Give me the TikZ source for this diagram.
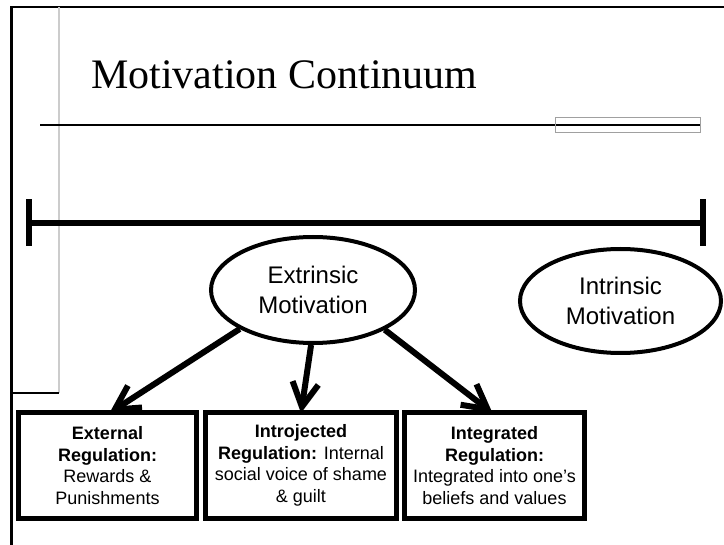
\documentclass[tikz,border=0pt]{standalone}
\usepackage{fontspec}
\setmainfont{Liberation Serif}
\setsansfont{Liberation Sans}
\usetikzlibrary{arrows.meta,shapes.geometric}

\definecolor{guidegray}{HTML}{CCCCCC}
\definecolor{boxgray}{HTML}{A0A0A0}

\tikzset{
  frameline/.style={line width=2.2pt, black},
  motive/.style={ellipse, draw, line width=4pt, inner sep=0pt,
    align=center, font=\sffamily\fontsize{24pt}{30pt}\selectfont},
  regbox/.style={rectangle, draw, line width=5pt, inner sep=0pt,
    minimum height=106pt, align=center,
    font=\sffamily\fontsize{18pt}{21.5pt}\selectfont},
  flow/.style={line width=6pt,
    -{Straight Barb[length=24pt,width=26pt,line width=6pt]}},
  barline/.style={line width=6pt},
}

\begin{document}
\begin{tikzpicture}[x=1pt, y=-1pt]
  \useasboundingbox (0,0) rectangle (724,545);

  % slide frame and guides
  \draw[frameline] (11.5,545) -- (11.5,7) -- (724,7);
  \draw[guidegray, line width=1.5pt] (59,7) -- (59,393);
  \draw[line width=2.8pt] (11.5,393) -- (59,393);

  % title and title rule
  \node[anchor=base west, inner sep=0pt,
        font=\fontsize{42pt}{48pt}\selectfont] (title) at (91,89)
        {Motivation Continuum};
  \draw[line width=2.2pt] (40,125) -- (700,125);
  \draw[boxgray, line width=1pt] (555,118) rectangle (700,133);

  % continuum bar
  \coordinate (barL) at (29,223);
  \coordinate (barR) at (703,223);
  \draw[barline] (barL) -- (barR);
  \draw[barline] ([yshift=-23pt]barL) -- ([yshift=24pt]barL);
  \draw[barline] ([yshift=-23pt]barR) -- ([yshift=24pt]barR);

  % motivation ellipses
  \node[motive, minimum width=204pt, minimum height=106pt] (ext) at (313,290)
    {Extrinsic\\Motivation};
  \node[motive, minimum width=201pt, minimum height=104pt] (int) at (620.5,301)
    {Intrinsic\\Motivation};

  % regulation boxes
  \node[regbox, minimum width=178pt] (ext-reg) at (107.5,465.5)
    {\textbf{External}\\\textbf{Regulation:}\\Rewards \&\\Punishments};
  \node[regbox, minimum width=191pt] (intro-reg) at (301,465.5)
    {\textbf{Introjected}\\\textbf{Regulation:} Internal\\social voice of shame\\\& guilt};
  \node[regbox, minimum width=180pt] (integ-reg) at (494.5,465.5)
    {\textbf{Integrated}\\\textbf{Regulation:}\\Integrated into one’s\\beliefs and values};

  % arrows from extrinsic motivation
  \draw[flow] (ext.208) -- ([xshift=2pt,yshift=-3pt]ext-reg.north);
  \draw[flow] (ext.268) -- ([yshift=-3pt]intro-reg.north);
  \draw[flow] (ext.331) -- ([xshift=-2pt,yshift=-3pt]integ-reg.north);
\end{tikzpicture}
\end{document}
